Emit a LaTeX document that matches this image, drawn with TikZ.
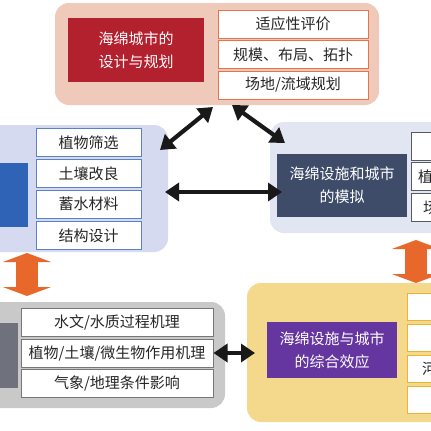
\documentclass[tikz,border=0pt]{standalone}
\usepackage{fontspec}
\usepackage{xcolor}
\usepackage{tikz}
\usetikzlibrary{arrows.meta,calc}
\newfontfamily\cjk{Noto Sans CJK SC}
\definecolor{designbg}{HTML}{EFCABB}
\definecolor{designred}{HTML}{B3202E}
\definecolor{designline}{HTML}{E8724A}
\definecolor{facilbg}{HTML}{D5DAF0}
\definecolor{facilblue}{HTML}{2F63B5}
\definecolor{facilline}{HTML}{5B82C5}
\definecolor{simbg}{HTML}{E2E5F2}
\definecolor{simslate}{HTML}{3E4C6A}
\definecolor{simline}{HTML}{555A66}
\definecolor{mechbg}{HTML}{C9C9C9}
\definecolor{mechgray}{HTML}{6F717C}
\definecolor{mechline}{HTML}{777777}
\definecolor{effectbg}{HTML}{F4D98C}
\definecolor{effectpurple}{HTML}{6535A0}
\definecolor{effectline}{HTML}{F0B030}
\definecolor{arrowor}{HTML}{E8682C}

\begin{document}
\begin{tikzpicture}[x=1pt,y=-1pt,
  font=\cjk\fontsize{15}{23}\selectfont,
  panel/.style={rounded corners=14pt, draw=none, inner sep=0pt},
  mainbox/.style={text=white, align=center, inner sep=0pt},
  item/.style={fill=white, line width=1pt, inner sep=0pt, text=black!85},
  link/.style={line width=4.2pt, black!90,
    {Triangle[length=14pt,width=18pt]}-{Triangle[length=14pt,width=18pt]}},
  flow/.style={line width=22pt, draw=arrowor,
    {Triangle[length=9pt,width=48pt]}-{Triangle[length=9pt,width=48pt]}}]
  \useasboundingbox (0,0) rectangle (431,431);
  \clip (0,0) rectangle (431,431);
  % Panels
  \node[panel, fill=designbg, minimum width=324pt, minimum height=102pt] (design) at (217,54) {};
  \node[panel, fill=facilbg, minimum width=228pt, minimum height=127pt] (facil) at (54,188.5) {};
  \node[panel, fill=simbg, minimum width=290pt, minimum height=111pt] (sim) at (415,177.5) {};
  \node[panel, fill=mechbg, minimum width=305pt, minimum height=106pt] (mech) at (72.5,355) {};
  \node[panel, fill=effectbg, minimum width=313pt, minimum height=139pt] (effect) at (403.5,352.5) {};
  % Main boxes
  \node[mainbox, fill=designred, minimum width=136pt, minimum height=64pt] (designM) at (136,50) {海绵城市的\\设计与规划};
  \node[mainbox, fill=facilblue, minimum width=138pt, minimum height=64pt] (facilM) at (-41,195) {};
  \node[mainbox, fill=simslate, minimum width=130pt, minimum height=63pt] (simM) at (342,185.5) {海绵设施和城市\\的模拟};
  \node[mainbox, fill=mechgray, minimum width=138pt, minimum height=65pt] (mechM) at (-51,355.5) {};
  \node[mainbox, fill=effectpurple, minimum width=130pt, minimum height=56pt] (effectM) at (332,350) {海绵设施与城市\\的综合效应};
  % Item boxes
  \foreach \y/\t [count=\i] in {24/{适应性评价}, 54.5/{规模、布局、拓扑}, 85/{场地/流域规划}}
    \node[item, draw=designline, minimum width=150pt, minimum height=28pt] (design\i) at (293,\y) {\t};
  \foreach \y/\t [count=\i] in {142.5/{植物筛选}, 173.5/{土壤改良}, 204/{蓄水材料}, 235.5/{结构设计}}
    \node[item, draw=facilline, minimum width=105pt, minimum height=28pt] (facil\i) at (88.5,\y) {\t};
  \foreach \y [count=\i] in {146, 176.5, 207.5}
    \node[item, draw=simline, minimum width=150pt, minimum height=28pt] (sim\i) at (486,\y) {};
  \foreach \y/\t [count=\i] in {322/{水文/水质过程机理}, 353/{植物/土壤/微生物作用机理}, 383.5/{气象/地理条件影响}}
    \node[item, draw=mechline, minimum width=192pt, minimum height=28pt] (mech\i) at (117,\y) {\t};
  \foreach \y [count=\i] in {306.5, 338, 369, 400}
    \node[item, draw=effectline, minimum width=153pt, minimum height=27pt] (effect\i) at (483.5,\y) {};
  \node[anchor=west, inner sep=0pt, text=black!85] (simT2) at (418,176.5) {植};
  \node[anchor=west, inner sep=0pt, text=black!85] (simT3) at (423,207.5) {场};
  \node[anchor=west, inner sep=0pt, text=black!85] (effectT3) at (422,369) {河};
  % Define coordinates
  \path
    (160,150) coordinate (A)
    (213,107) coordinate (B)
    (232,105) coordinate (C)
    (285,143) coordinate (D)
    (165,192) coordinate (E)
    (282,192) coordinate (F)
    (mech2.east) coordinate (G)
    (255,353) coordinate (H)
    (27,253) coordinate (I)
    (27,296) coordinate (J)
    (416,240) coordinate (K)
    (416,283) coordinate (L)
  ;
  % Arrows
  \draw[link] (A) -- (B);
  \draw[link] (C) -- (D);
  \draw[link] (E) -- (F);
  \draw[link] (G) -- (H);
  \draw[flow] (I) -- (J);
  \draw[flow] (K) -- (L);
\end{tikzpicture}
\end{document}
